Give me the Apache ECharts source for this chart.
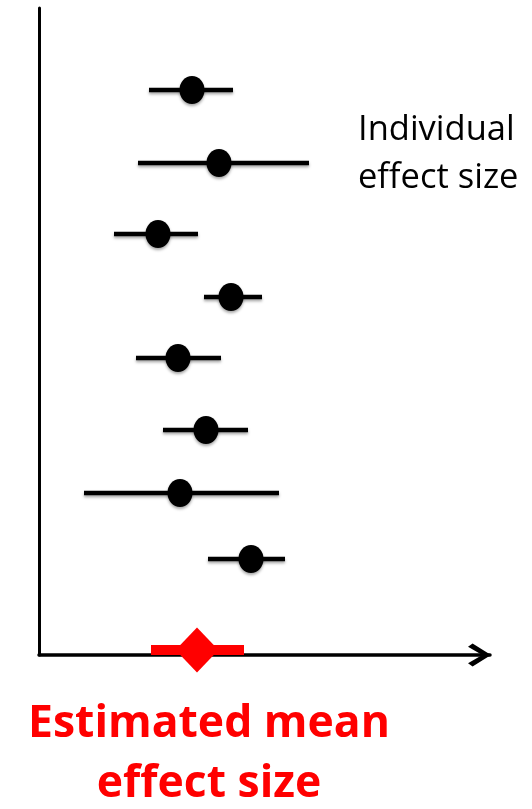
<!DOCTYPE html>
<html>
<head>
<meta charset="utf-8">
<script src="https://cdn.jsdelivr.net/npm/echarts@6/dist/echarts.min.js"></script>
<style>
html,body{margin:0;padding:0;background:#fff;}
#chart{width:532px;height:809px;}
</style>
</head>
<body>
<div id="chart"></div>
<script>
// Study rows (position on the vertical axis, top to bottom)
const rowPos   = [5.65, 4.92, 4.21, 3.58, 2.97, 2.25, 1.62, 0.96];
// Individual effect sizes and confidence limits
const effect   = [1.53, 1.80, 1.19, 1.92, 1.39, 1.67, 1.41, 2.12];
const lower    = [1.10, 0.99, 0.75, 1.65, 0.97, 1.24, 0.45, 1.69];
const upper    = [1.94, 2.70, 1.59, 2.23, 1.82, 2.09, 2.40, 2.46];
// Pooled (estimated mean) effect
const meanPos   = [0.05];
const meanValue = [1.58];
const meanLower = [1.12];
const meanUpper = [2.05];

const xMax = 4.51, yMax = 6.47;

const studyData = effect.map((v, i) => [v, rowPos[i], lower[i], upper[i]]);
const meanData = meanValue.map((v, i) => [v, meanPos[i], meanLower[i], meanUpper[i]]);

const chart = echarts.init(document.getElementById('chart'), null, {renderer: 'canvas'});
chart.setOption({
  animation: false,
  backgroundColor: '#ffffff',
  title: [
    {
      text: 'Individual\neffect size',
      left: 353, top: 101,
      textStyle: {fontFamily: 'Open Sans', fontSize: 34.5, fontWeight: 'normal', color: '#000', lineHeight: 48}
    },
    {
      text: 'Estimated mean\neffect size',
      left: 204, top: 689, textAlign: 'center',
      textStyle: {fontFamily: 'Open Sans', fontSize: 44.5, fontWeight: 'bold', color: '#ff0000', lineHeight: 60}
    }
  ],
  grid: {left: 39, right: 42, top: 8, bottom: 154, containLabel: false},
  xAxis: {
    type: 'value', min: 0, max: xMax,
    axisLine: {
      show: true, onZero: false,
      lineStyle: {color: '#000', width: 3.5},
      symbol: ['none', 'path://M50 0 L100 80 L86 100 L50 38 L14 100 L0 80 Z'],
      symbolSize: [24, 23],
      symbolOffset: [0, -10.5]
    },
    axisTick: {show: false}, axisLabel: {show: false}, splitLine: {show: false}
  },
  yAxis: {
    type: 'value', min: 0, max: yMax,
    axisLine: {show: true, onZero: false, lineStyle: {color: '#000', width: 3}},
    axisTick: {show: false}, axisLabel: {show: false}, splitLine: {show: false}
  },
  series: [
    {
      type: 'custom',
      data: studyData,
      encode: {x: [0, 2, 3], y: 1},
      z: 2,
      renderItem: function (params, api) {
        const y = api.value(1);
        const p1 = api.coord([api.value(2), y]);
        const p2 = api.coord([api.value(3), y]);
        return {
          type: 'line',
          shape: {x1: p1[0], y1: p1[1], x2: p2[0], y2: p2[1]},
          style: {stroke: '#000', lineWidth: 4.5, shadowBlur: 3, shadowColor: 'rgba(0,0,0,0.35)', shadowOffsetY: 2}
        };
      }
    },
    {
      type: 'scatter',
      data: studyData,
      encode: {x: 0, y: 1},
      symbol: 'circle',
      symbolSize: [25, 28],
      z: 3,
      itemStyle: {color: '#000', opacity: 1, shadowBlur: 3, shadowColor: 'rgba(0,0,0,0.35)', shadowOffsetY: 2}
    },
    {
      type: 'custom',
      data: meanData,
      encode: {x: [0, 2, 3], y: 1},
      clip: false,
      z: 4,
      renderItem: function (params, api) {
        const y = api.value(1);
        const p1 = api.coord([api.value(2), y]);
        const p2 = api.coord([api.value(3), y]);
        return {
          type: 'rect',
          shape: {x: p1[0], y: p1[1] - 5, width: p2[0] - p1[0], height: 10},
          style: {fill: '#ff0000'}
        };
      }
    },
    {
      type: 'scatter',
      data: meanData,
      encode: {x: 0, y: 1},
      symbol: 'diamond',
      symbolSize: [43, 45],
      clip: false,
      z: 5,
      itemStyle: {color: '#ff0000', opacity: 1}
    }
  ]
});
</script>
</body>
</html>
